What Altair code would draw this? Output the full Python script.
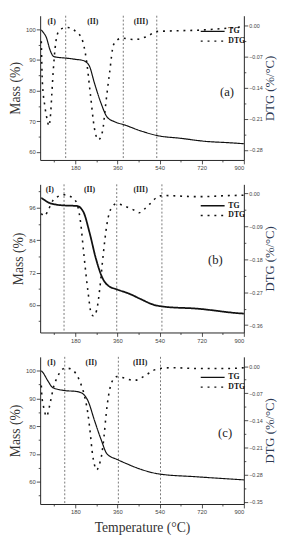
import altair as alt
import pandas as pd

SERIF = "Liberation Serif"
SANS = "Liberation Sans"

# ---------------- panel (a) ----------------
TG_A_T = [35, 43, 57, 71, 88, 110, 139, 180, 214, 239, 262, 289, 316, 350, 391, 459, 528, 637, 732, 841, 900]
TG_A = [99.8, 99.0, 97.2, 93.5, 91.1, 90.8, 90.6, 90.2, 89.8, 88.2, 82.4, 76.1, 71.4, 69.8, 68.8, 66.9, 65.4, 64.4, 63.5, 63.0, 62.7]
DTG_A_T = [35, 39, 50, 61, 67, 75, 80, 86, 94, 105, 125, 146, 165, 180, 207, 228, 244, 262, 279, 296, 309, 326, 344,
           378, 432, 487, 528, 569, 705, 841, 900]
DTG_A = [-0.035, -0.123, -0.181, -0.214, -0.226, -0.196, -0.152, -0.101, -0.05, -0.017, -0.006, -0.004, -0.006, -0.012,
         -0.028, -0.079, -0.152, -0.232, -0.257, -0.239, -0.181, -0.108, -0.042, -0.028, -0.031, -0.024, -0.013, -0.012,
         -0.01, -0.005, -0.002]
STAGES_A = [139, 385, 528]

# ---------------- panel (b) ----------------
TG_B_T = [35, 50, 70, 91, 130, 187, 214, 241, 268, 296, 323, 357, 412, 459, 514, 555, 705, 869, 900]
TG_B = [99.7, 98.8, 97.8, 97.3, 96.9, 96.7, 94.6, 86.8, 77.2, 70.0, 67.0, 65.8, 64.1, 62.2, 60.1, 59.4, 58.6, 57.0, 56.8]
DTG_B_T = [35, 48, 64, 84, 105, 132, 166, 187, 203, 217, 234, 248, 258, 271, 285, 299, 316, 337, 357, 391, 432, 453,
           473, 500, 528, 555, 705, 841, 900]
DTG_B = [-0.055, -0.062, -0.046, -0.02, -0.009, -0.004, -0.011, -0.028, -0.081, -0.169, -0.267, -0.328, -0.335, -0.32,
         -0.258, -0.169, -0.081, -0.037, -0.028, -0.035, -0.046, -0.053, -0.044, -0.028, -0.011, -0.006, -0.009, -0.006,
         -0.005]
STAGES_B = [132, 357, 550]

# ---------------- panel (c) ----------------
TG_C_T = [35, 43, 64, 84, 132, 187, 214, 234, 262, 289, 316, 360, 400, 460, 540, 700, 900]
TG_C = [100.0, 99.2, 96.2, 93.9, 92.9, 92.5, 91.6, 89.2, 82.1, 75.5, 70.0, 68.0, 66.5, 64.5, 62.8, 61.8, 60.7]
DTG_C_T = [35, 37, 43, 50, 57, 64, 71, 78, 88, 105, 119, 139, 160, 180, 200, 221, 234, 244, 252, 262, 271, 282, 293,
           303, 312, 323, 337, 357, 391, 432, 459, 487, 514, 541, 596, 705, 841, 900]
DTG_C = [-0.05, -0.075, -0.1, -0.12, -0.13, -0.12, -0.1, -0.08, -0.052, -0.027, -0.011, -0.005, -0.007, -0.017, -0.04,
         -0.081, -0.123, -0.173, -0.22, -0.255, -0.268, -0.255, -0.228, -0.18, -0.123, -0.073, -0.04, -0.027, -0.031,
         -0.037, -0.031, -0.021, -0.011, -0.006, -0.004, -0.006, -0.006, -0.004]
STAGES_C = [135, 364, 544]

STAGE_LABELS = ["(I)", "(II)", "(III)"]
STAGE_LABEL_T_A = [79, 255, 460]
STAGE_LABEL_T_B = [71, 241, 459]
STAGE_LABEL_T_C = [78, 248, 457]
PANEL_LETTERS = ["(a)", "(b)", "(c)"]
LETTER_T = [828, 778, 820]

SERIES = ["TG", "DTG"]
X_TICKS = [90, 180, 270, 360, 450, 540, 630, 720, 810, 900]


def tick_list(start, stop, step):
    out = []
    v = start
    while (v >= stop - 1e-9) if step < 0 else (v <= stop + 1e-9):
        out.append(round(v, 4))
        v += step
    return out


def major_test(base, step):
    return f"abs((datum.value - ({base}))/{step} - round((datum.value - ({base}))/{step})) < 0.01"


def panel(tgT, tg, dT, d, stages, labT, letter, letterT, ydom, yvals, ybase, ystep,
          rdom, rvals, rstep, height, legend_y, tg_width, bottom):
    df_tg = pd.DataFrame({"T": tgT, "v": tg, "s": "TG"})
    df_d = pd.DataFrame({"T": dT, "v": d, "s": "DTG"})
    xtest = "datum.value % 180 === 0"
    xaxis = alt.Axis(values=X_TICKS, labelExpr=f"{xtest} ? datum.label : ''", labelOverlap=False,
                     tickSize={"condition": {"test": xtest, "value": 4}, "value": 2},
                     title="Temperature (°C)" if bottom else None, titlePadding=6)
    x = alt.X("T:Q", scale=alt.Scale(domain=[30, 900], nice=False, zero=False), axis=xaxis)
    dash = alt.StrokeDash(
        "s:N",
        scale=alt.Scale(domain=SERIES, range=[[1, 0], [2, 5]]),
        legend=alt.Legend(orient="none", legendX=164, legendY=legend_y, title=None, direction="vertical",
                          symbolType="stroke", symbolSize=600, symbolStrokeWidth=1.4, symbolStrokeColor="#111",
                          labelFont=SERIF, labelFontWeight="bold", labelFontSize=8, labelColor="#111",
                          clipHeight=10, rowPadding=0, padding=0, labelOffset=3),
    )
    ltest = major_test(ybase, ystep)
    laxis = alt.Axis(values=yvals, labelExpr=f"{ltest} ? datum.label : ''", labelOverlap=False,
                     tickSize={"condition": {"test": ltest, "value": 4}, "value": 2},
                     title="Mass (%)", titlePadding=3)
    rtest = major_test(0, rstep)
    raxis = alt.Axis(orient="right", values=rvals, format=".2f", labelExpr=f"{rtest} ? datum.label : ''",
                     labelOverlap=False, labelFontSize=5.5,
                     tickSize={"condition": {"test": rtest, "value": 4}, "value": 2},
                     title="DTG (%/°C)", titleAngle=270, titleBaseline="top", titlePadding=2, titleFontSize=13,
                     titleColor="#2c3852")
    tg_line = alt.Chart(df_tg).mark_line(color="#111", strokeWidth=tg_width, interpolate="monotone").encode(
        x=x, y=alt.Y("v:Q", scale=alt.Scale(domain=ydom, nice=False, zero=False), axis=laxis), strokeDash=dash)
    d_line = alt.Chart(df_d).mark_line(color="#111", strokeWidth=1.6, interpolate="monotone").encode(
        x=x, y=alt.Y("v:Q", scale=alt.Scale(domain=rdom, nice=False, zero=False), axis=raxis), strokeDash=dash)
    rules = alt.Chart(pd.DataFrame({"T": stages})).mark_rule(color="#555", strokeWidth=0.8,
                                                             strokeDash=[2, 2]).encode(x=x)
    labs = alt.Chart(pd.DataFrame({"T": labT, "lab": STAGE_LABELS})).mark_text(
        font=SERIF, fontWeight="bold", fontSize=8, color="#222", baseline="middle").encode(
        x=x, y=alt.value(6), text="lab:N")
    let = alt.Chart(pd.DataFrame({"T": [letterT], "lab": [letter]})).mark_text(
        font=SERIF, fontSize=13, color="#222", baseline="middle").encode(
        x=x, y=alt.value(78), text="lab:N")
    return alt.layer(rules, tg_line, d_line, labs, let).resolve_scale(y="independent").properties(
        width=209, height=height)


pa = panel(TG_A_T, TG_A, DTG_A_T, DTG_A, STAGES_A, STAGE_LABEL_T_A, PANEL_LETTERS[0], LETTER_T[0],
           [57.4, 104.4], tick_list(60, 100, 5), 60, 10,
           [-0.3025, 0.0225], tick_list(0, -0.28, -0.035), 0.07, 148, 11, 1.2, False)
pb = panel(TG_B_T, TG_B, DTG_B_T, DTG_B, STAGES_B, STAGE_LABEL_T_B, PANEL_LETTERS[1], LETTER_T[1],
           [49.8, 104.7], tick_list(54, 102, 6), 60, 12,
           [-0.38, 0.0246], tick_list(0, -0.36, -0.045), 0.09, 152, 17, 1.8, False)
pc = panel(TG_C_T, TG_C, DTG_C_T, DTG_C, STAGES_C, STAGE_LABEL_T_C, PANEL_LETTERS[2], LETTER_T[2],
           [52, 105], tick_list(55, 100, 5), 60, 10,
           [-0.356, 0.024], tick_list(0, -0.35, -0.035), 0.07, 151, 16, 1.2, True)

chart = alt.vconcat(pa, pb, pc, spacing=13).resolve_scale(strokeDash="independent").resolve_legend(
    strokeDash="independent").properties(padding={"left": 0, "top": 0, "right": 0, "bottom": 0}).configure_view(
    stroke=None).configure_axis(
    grid=False, labelFont=SANS, labelFontSize=6, labelColor="#444", labelPadding=1,
    tickColor="#222", tickWidth=0.8, domainColor="#222", domainWidth=1,
    titleFont=SERIF, titleFontSize=14, titleFontWeight="normal", titleColor="#333")

chart.save("out.html", embed_options={"renderer": "svg", "actions": False})
